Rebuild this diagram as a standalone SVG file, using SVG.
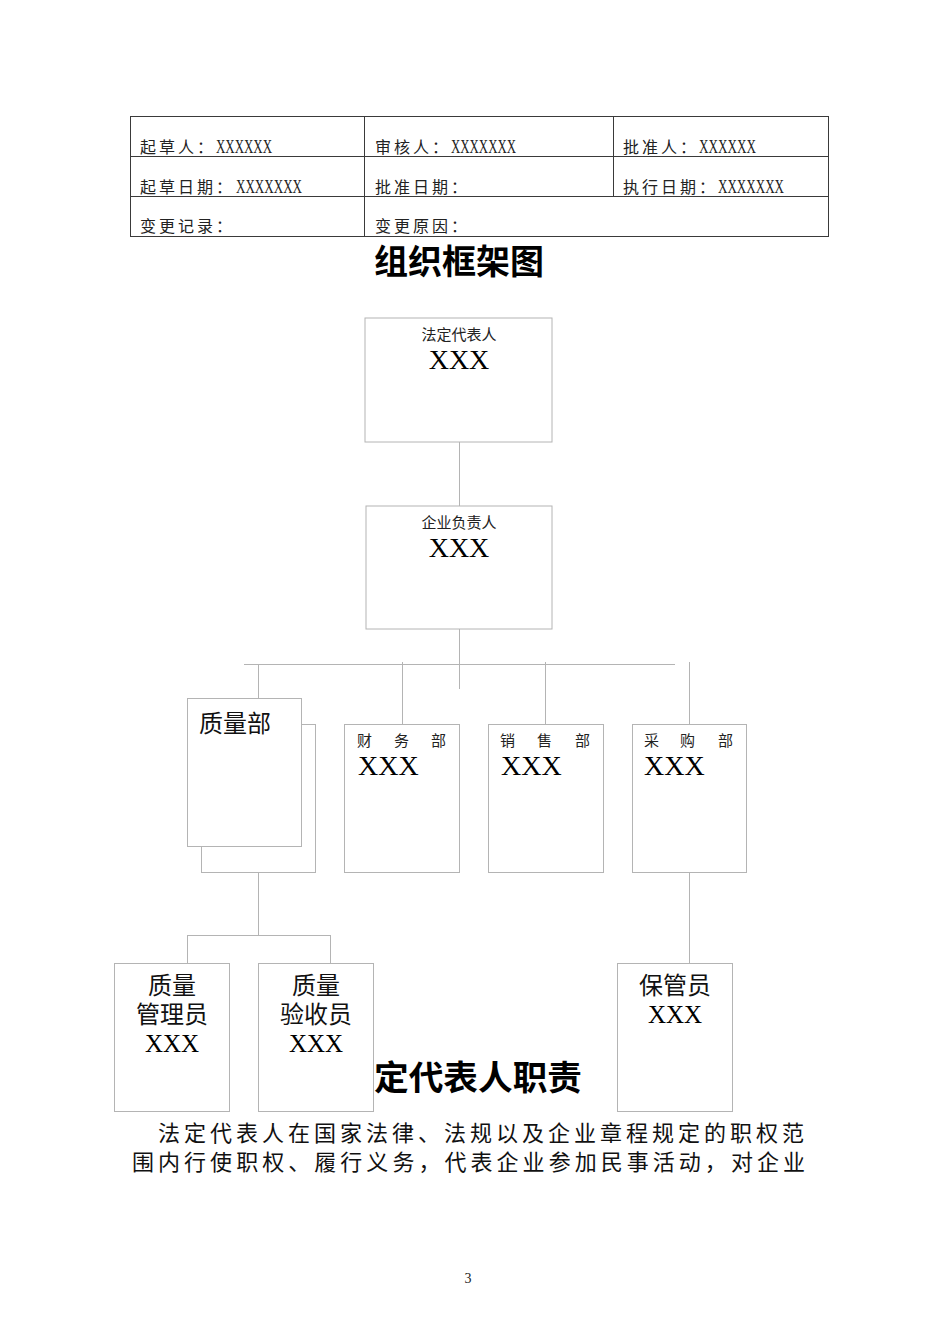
<svg xmlns="http://www.w3.org/2000/svg" width="950" height="1344" viewBox="0 0 950 1344">
<style>
.tbl{fill:none;stroke:#3a3a3a;stroke-width:1}
.cell{font-family:"Noto Sans CJK SC","Liberation Serif",serif;font-size:16px;letter-spacing:3px;fill:#222}
.xx{font-family:"Liberation Serif",serif;font-size:19px;fill:#222}
.box{fill:#fff;stroke:#b4b4b4;stroke-width:1}
.conn line{stroke:#b4b4b4;stroke-width:1}
.h1{font-family:"Noto Sans CJK SC",sans-serif;font-size:34px;font-weight:bold;fill:#000}
.small{font-family:"Noto Sans CJK SC",sans-serif;font-size:15px;fill:#222}
.big{font-family:"Liberation Serif",serif;font-size:28px;fill:#000}
.mid{font-family:"Noto Sans CJK SC",sans-serif;font-size:24px;fill:#111}
.midx{font-family:"Liberation Serif",serif;font-size:25px;fill:#000}
.para{font-family:"Noto Sans CJK SC",sans-serif;font-size:22px;fill:#111}
</style>
<rect width="950" height="1344" fill="#fff"/>
<g id="table">
<rect class="tbl" x="130.5" y="116.5" width="698" height="120"/>
<line class="tbl" x1="130" y1="156.5" x2="828" y2="156.5"/>
<line class="tbl" x1="130" y1="196.5" x2="828" y2="196.5"/>
<line class="tbl" x1="364.5" y1="116" x2="364.5" y2="237"/>
<line class="tbl" x1="613.5" y1="116" x2="613.5" y2="197"/>
<text class="cell" x="140" y="153">起草人：</text><text class="xx" x="216" y="153" textLength="56" lengthAdjust="spacingAndGlyphs">XXXXXX</text>
<text class="cell" x="375" y="153">审核人：</text><text class="xx" x="451" y="153" textLength="65" lengthAdjust="spacingAndGlyphs">XXXXXXX</text>
<text class="cell" x="623" y="153">批准人：</text><text class="xx" x="699" y="153" textLength="57" lengthAdjust="spacingAndGlyphs">XXXXXX</text>
<text class="cell" x="140" y="193">起草日期：</text><text class="xx" x="236" y="193" textLength="66" lengthAdjust="spacingAndGlyphs">XXXXXXX</text>
<text class="cell" x="375" y="193">批准日期：</text>
<text class="cell" x="623" y="193">执行日期：</text><text class="xx" x="718" y="193" textLength="66" lengthAdjust="spacingAndGlyphs">XXXXXXX</text>
<text class="cell" x="140" y="232">变更记录：</text>
<text class="cell" x="375" y="232">变更原因：</text>
</g>
<text class="h1" x="459" y="274" text-anchor="middle">组织框架图</text>
<g class="conn" id="connectors">
<line x1="459.5" y1="442" x2="459.5" y2="506"/>
<line x1="459.5" y1="629" x2="459.5" y2="689"/>
<line x1="244" y1="664.5" x2="675" y2="664.5"/>
<line x1="258.5" y1="664" x2="258.5" y2="698"/>
<line x1="402.5" y1="662" x2="402.5" y2="724"/>
<line x1="545.5" y1="662" x2="545.5" y2="724"/>
<line x1="689.5" y1="662" x2="689.5" y2="724"/>
<line x1="258.5" y1="873" x2="258.5" y2="935"/>
<line x1="187" y1="935.5" x2="330" y2="935.5"/>
<line x1="187.5" y1="935" x2="187.5" y2="963"/>
<line x1="330.5" y1="935" x2="330.5" y2="963"/>
<line x1="689.5" y1="873" x2="689.5" y2="963"/>
</g>
<g id="n-legal">
<rect class="box" x="365" y="318" width="187" height="124"/>
<text class="small" x="459" y="340" text-anchor="middle">法定代表人</text>
<text class="big" x="459" y="369" text-anchor="middle">XXX</text>
</g>
<g id="n-head">
<rect class="box" x="366" y="506" width="186" height="123"/>
<text class="small" x="459" y="528" text-anchor="middle">企业负责人</text>
<text class="big" x="459" y="557" text-anchor="middle">XXX</text>
</g>
<g id="n-quality">
<rect class="box" x="201.5" y="724.5" width="114" height="148"/>
<rect class="box" x="187.5" y="698.5" width="114" height="148"/>
<text class="mid" x="199" y="732" font-size="27">质量部</text>
</g>
<g id="n-finance">
<rect class="box" x="344.5" y="724.5" width="115" height="148"/>
<text class="small" x="357 394 431" y="746">财务部</text>
<text class="big" x="358" y="775">XXX</text>
</g>
<g id="n-sales">
<rect class="box" x="488.5" y="724.5" width="115" height="148"/>
<text class="small" x="500 537 575" y="746">销售部</text>
<text class="big" x="501" y="775">XXX</text>
</g>
<g id="n-purchase">
<rect class="box" x="632.5" y="724.5" width="114" height="148"/>
<text class="small" x="644 680 718" y="746">采购部</text>
<text class="big" x="644" y="775">XXX</text>
</g>
<g id="n-qmgr">
<rect class="box" x="114.5" y="963.5" width="115" height="148"/>
<text class="mid" x="172" y="994" text-anchor="middle">质量</text>
<text class="mid" x="172" y="1023" text-anchor="middle">管理员</text>
<text class="midx" x="172" y="1052" text-anchor="middle">XXX</text>
</g>
<g id="n-qinsp">
<rect class="box" x="258.5" y="963.5" width="115" height="148"/>
<text class="mid" x="316" y="994" text-anchor="middle">质量</text>
<text class="mid" x="316" y="1023" text-anchor="middle">验收员</text>
<text class="midx" x="316" y="1052" text-anchor="middle">XXX</text>
</g>
<g id="n-keeper">
<rect class="box" x="617.5" y="963.5" width="115" height="148"/>
<text class="mid" x="675" y="994" text-anchor="middle">保管员</text>
<text class="midx" x="675" y="1023" text-anchor="middle">XXX</text>
</g>
<text class="h1" x="374" y="1090" textLength="208" lengthAdjust="spacingAndGlyphs">定代表人职责</text>
<text class="para" x="158" y="1141" textLength="646" lengthAdjust="spacing">法定代表人在国家法律、法规以及企业章程规定的职权范</text>
<text class="para" x="132" y="1170" textLength="673" lengthAdjust="spacing">围内行使职权、履行义务，代表企业参加民事活动，对企业</text>
<text x="468" y="1283" text-anchor="middle" font-family="Liberation Serif, serif" font-size="14" fill="#222">3</text>
</svg>
